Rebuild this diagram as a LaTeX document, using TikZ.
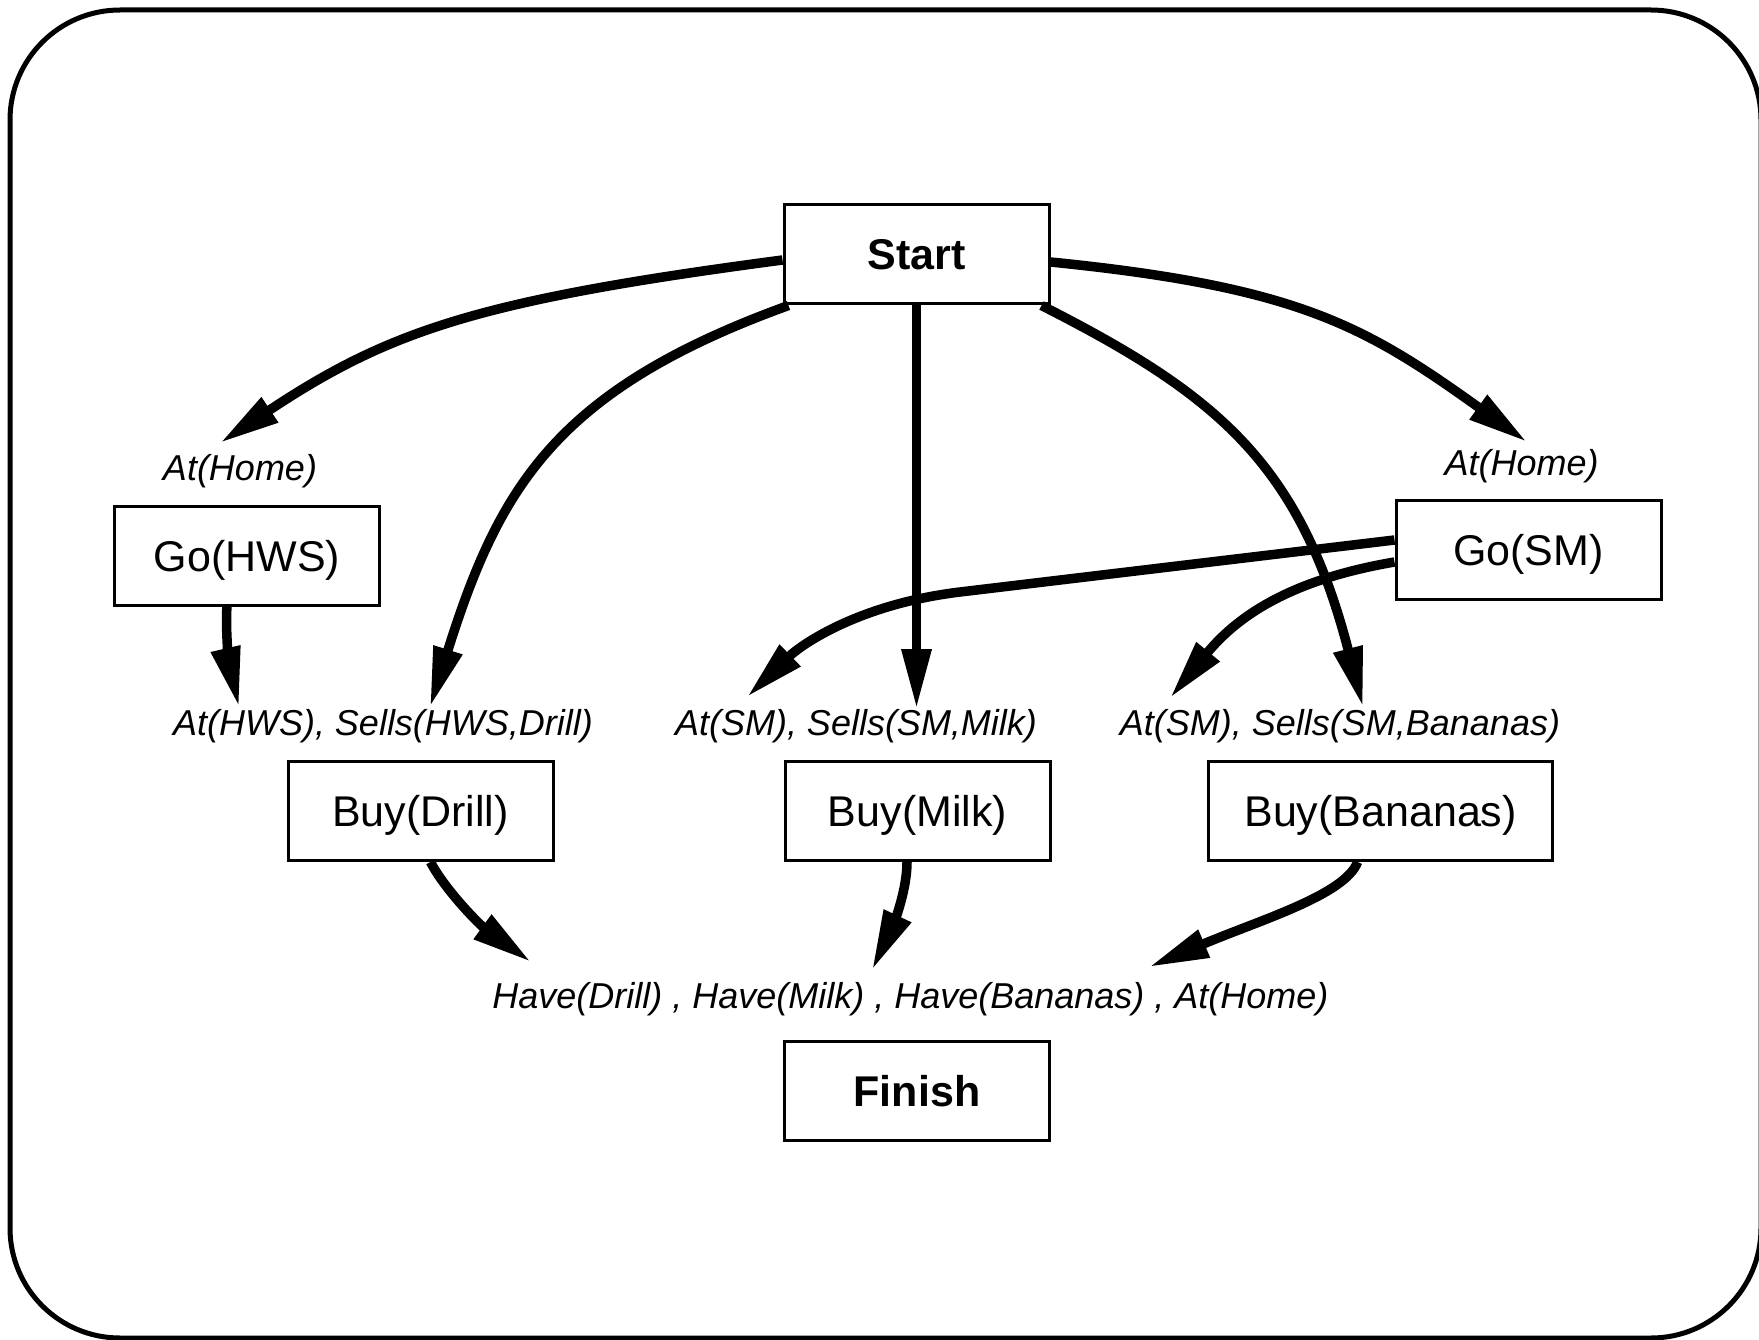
\documentclass[tikz,border=0pt]{standalone}
\usepackage{fontspec}
\setmainfont{Liberation Sans}
\usetikzlibrary{arrows.meta,calc}
\begin{document}
\begin{tikzpicture}[x=1pt,y=-1pt,
  action/.style={draw, line width=3pt, minimum width=265pt, minimum height=99pt,
    inner sep=0pt, text height=31pt, text depth=0pt, font=\fontsize{43}{50}\selectfont},
  endpoint/.style={action, font=\fontsize{43}{50}\selectfont\bfseries},
  cond/.style={inner sep=0pt, anchor=base, font=\fontsize{36}{42}\selectfont\itshape},
  link/.style={line width=9.5pt, -{Triangle[length=60pt,width=28pt]}}
]
\useasboundingbox (0,0) rectangle (1759,1340);
% outer frame
\draw[line width=5pt, rounded corners=110pt] (10,10) rectangle (1761,1338);

% actions
\node[endpoint] (start) at (916.5,254.5) {Start};
\node[action] (gohws) at (247,555.5) {Go(HWS)};
\node[action] (gosm) at (1528.5,549.5) {Go(SM)};
\node[action] (buydrill) at (420.5,811) {Buy(Drill)};
\node[action] (buymilk) at (917.5,811) {Buy(Milk)};
\node[action, minimum width=344pt] (buybananas) at (1380.6,811) {Buy(Bananas)};
\node[endpoint] (finish) at (917,1091) {Finish};

% preconditions
\node[cond] (preHomeL) at (240,480) {At(Home)};
\node[cond] (preHomeR) at (1521.5,475) {At(Home)};
\node[cond] (preDrill) at (383,735) {At(HWS), Sells(HWS,Drill)};
\node[cond] (preMilk) at (856,735) {At(SM), Sells(SM,Milk)};
\node[cond] (preBananas) at (1340,735) {At(SM), Sells(SM,Bananas)};
\node[cond] (goal) at (910.5,1008) {Have(Drill) , Have(Milk) , Have(Bananas) , At(Home)};

% arrow tips above the preconditions
\coordinate (t1) at (220,443);
\coordinate (t2) at (430,707);
\coordinate (t3) at (916.5,709);
\coordinate (t4) at (1363,707);
\coordinate (t5) at (1527,442);
\coordinate (t6) at (239,707);
\coordinate (t7) at (747,697);
\coordinate (t8) at (1170,698);
\coordinate (t9) at (531,962);
\coordinate (t10) at (872,970);
\coordinate (t11) at (1149,967);

% causal links
\draw[link] ($(start.west)+(0,5.5)$) .. controls (480,300) and (390,330) .. (t1);
\draw[link] ($(start.south west)+(6,0)$) .. controls (555,390) and (499,488) .. (t2);
\draw[link] (start.south) -- (t3);
\draw[link] ($(start.south east)+(-9,0)$) .. controls (1218,395) and (1300,464) .. (t4);
\draw[link] ($(start.east)+(0,7.5)$) .. controls (1299,287) and (1365,326) .. (t5);
\draw[link] ($(gohws.south)+(-20,0)$) .. controls (225,630) and (230,668) .. (t6);
\draw[link] ($(gosm.west)+(0,-9.5)$) -- (960,592) .. controls (860,604) and (802,644) .. (t7);
\draw[link] ($(gosm.west)+(0,12.5)$) .. controls (1295,579) and (1240,613) .. (t8);
\draw[link] ($(buydrill.south)+(10,0)$) .. controls (445,890) and (480,925) .. (t9);
\draw[link] ($(buymilk.south)+(-10.5,0)$) .. controls (907,895) and (889,934) .. (t10);
\draw[link] ($(buybananas.south)+(-23,0)$) .. controls (1345,895) and (1260,920) .. (t11);
\end{tikzpicture}
\end{document}
